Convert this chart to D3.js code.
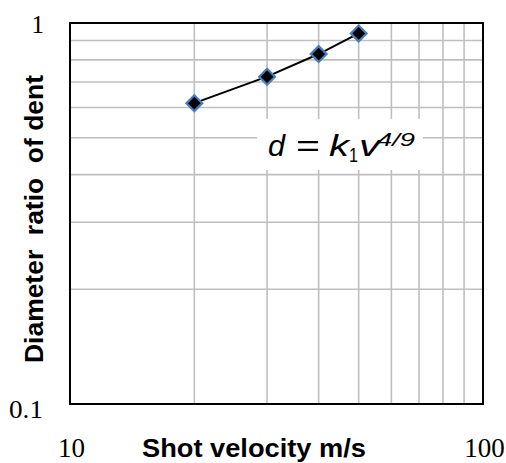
<!DOCTYPE html>
<html><head><meta charset="utf-8">
<script src="https://cdn.jsdelivr.net/npm/d3@7"></script>
<style>body{margin:0;background:#fff}</style>
</head><body>
<script>
const velocity = [20, 30, 40, 50];
const diameterRatio = [0.616, 0.723, 0.829, 0.939];
const xTickLabels = ["10", "100"];
const yTickLabels = ["0.1", "1"];
const xGrid = [20, 30, 40, 50, 60, 70, 80, 90];
const yGrid = [0.2, 0.3, 0.4, 0.5, 0.6, 0.7, 0.8, 0.9];

const W = 506, H = 463;
const m = {left: 70, right: 23, top: 23, bottom: 59};
const svg = d3.select("body").append("svg").attr("width", W).attr("height", H);
const x = d3.scaleLog().domain([10, 100]).range([m.left, W - m.right]);
const y = d3.scaleLog().domain([0.1, 1]).range([H - m.bottom, m.top]);

const g = svg.append("g");
g.selectAll("line.vx").data(xGrid).enter().append("line")
  .attr("x1", d => x(d)).attr("x2", d => x(d)).attr("y1", y(0.1)).attr("y2", y(1))
  .attr("stroke", "#bfbfbf").attr("stroke-width", 1.6);
g.selectAll("line.hy").data(yGrid).enter().append("line")
  .attr("y1", d => y(d)).attr("y2", d => y(d)).attr("x1", x(10)).attr("x2", x(100))
  .attr("stroke", "#bfbfbf").attr("stroke-width", 1.6);

// equation box
svg.append("rect").attr("x", 257).attr("y", 119).attr("width", 166).attr("height", 51).attr("fill", "#fff");
const sans = "Liberation Sans, Arial, sans-serif";
const eq = svg.append("g").attr("font-family", sans).attr("font-style", "italic").attr("fill", "#000");
eq.append("text").attr("x", 268).attr("y", 156).attr("font-size", 29).attr("textLength", 17).attr("lengthAdjust", "spacingAndGlyphs").text("d");
eq.append("text").attr("x", 296).attr("y", 156).attr("font-size", 29).attr("font-style", "normal").attr("textLength", 24).attr("lengthAdjust", "spacingAndGlyphs").text("=");
eq.append("text").attr("x", 329).attr("y", 156).attr("font-size", 29).attr("textLength", 20).attr("lengthAdjust", "spacingAndGlyphs").text("k");
eq.append("text").attr("x", 349).attr("y", 162).attr("font-size", 20).attr("font-style", "normal").attr("textLength", 9).attr("lengthAdjust", "spacingAndGlyphs").text("1");
eq.append("text").attr("x", 359).attr("y", 156).attr("font-size", 29).attr("textLength", 21).attr("lengthAdjust", "spacingAndGlyphs").text("v");
eq.append("text").attr("x", 377).attr("y", 146).attr("font-size", 19).attr("textLength", 38).attr("lengthAdjust", "spacingAndGlyphs").text("4/9");

// frame
svg.append("rect").attr("x", x(10)).attr("y", y(1)).attr("width", x(100) - x(10)).attr("height", y(0.1) - y(1))
  .attr("fill", "none").attr("stroke", "#000").attr("stroke-width", 2);

// line + markers
const pts = velocity.map((v, i) => [v, diameterRatio[i]]);
svg.append("path").datum(pts)
  .attr("d", d3.line().x(d => x(d[0])).y(d => y(d[1])))
  .attr("fill", "none").attr("stroke", "#000").attr("stroke-width", 2);
svg.selectAll("path.mk").data(pts).enter().append("path")
  .attr("d", d3.symbol().type(d3.symbolSquare).size(125))
  .attr("transform", d => `translate(${x(d[0])},${y(d[1])}) rotate(45)`)
  .attr("fill", "#000").attr("stroke", "#4a7ebb").attr("stroke-width", 2.2);

// tick labels
const serif = "Liberation Serif, Times New Roman, serif";
svg.append("text").attr("x", 44).attr("y", 33).attr("text-anchor", "end")
  .attr("font-family", serif).attr("font-size", 25).text(yTickLabels[1]);
svg.append("text").attr("x", 43).attr("y", 418).attr("text-anchor", "end")
  .attr("font-family", serif).attr("font-size", 25).attr("textLength", 34).attr("lengthAdjust", "spacingAndGlyphs").text(yTickLabels[0]);
svg.selectAll("text.xt").data(xTickLabels).enter().append("text")
  .attr("x", d => x(+d) + 1.5).attr("y", 457).attr("text-anchor", "middle")
  .attr("font-family", serif).attr("font-size", 27).text(d => d);

// axis titles
svg.append("text").attr("x", 254).attr("y", 457).attr("text-anchor", "middle")
  .attr("font-family", sans).attr("font-weight", "bold").attr("font-size", 26)
  .attr("textLength", 224).attr("lengthAdjust", "spacingAndGlyphs")
  .text("Shot velocity m/s");
svg.append("text").attr("transform", `translate(43,219) rotate(-90)`)
  .attr("text-anchor", "middle").attr("font-family", sans).attr("font-weight", "bold").attr("font-size", 26)
  .attr("xml:space", "preserve").style("white-space", "pre")
  .attr("textLength", 288).attr("lengthAdjust", "spacingAndGlyphs")
  .text("Diameter  ratio  of dent");
</script>
</body></html>
